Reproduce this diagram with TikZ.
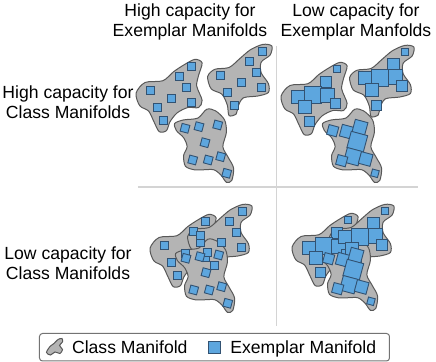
\documentclass[tikz,border=0pt]{standalone}
\usepackage{fontspec}
\setmainfont{Liberation Sans}
\usepackage{tikz}
\usetikzlibrary{positioning}
\definecolor{classgray}{RGB}{180,180,180}
\definecolor{classedge}{RGB}{88,88,88}
\definecolor{exfill}{RGB}{93,166,222}
\definecolor{exedge}{RGB}{50,82,114}
\definecolor{divgray}{RGB}{212,212,212}
\tikzset{
  manifold/.style={draw=classedge, fill=classgray, line width=0.5pt},
  exemplar/.style={draw=exedge, fill=exfill, line width=0.45pt, inner sep=0pt,
                   minimum size=4pt, shape=rectangle},
  capnode/.style={font=\fontsize{8.8}{10}\selectfont, align=center, inner sep=0pt},
  legendtext/.style={font=\fontsize{8.8}{10}\selectfont, inner sep=0pt, anchor=base west},
  divider/.style={draw=divgray, line width=0.9pt},
  legendbox/.style={draw=black!55, line width=0.5pt, rounded corners=1.5pt}
}

% class manifold outlines (pixel coordinates of the top-left cell)
\newcommand{\classA}[1]{%
  \draw[manifold, shift={#1}, scale around={1.07:(170,95)}] plot[smooth cycle] coordinates {
    (138.3,93.3) (146.7,83.3) (163.3,81.7) (173.3,73.3) (183.3,66.7) (193.3,61.7)
    (200,65) (196.7,76.7) (195,86.7) (200,100) (196.7,106.7) (186.7,106.7)
    (176.7,111.7) (170,120) (166.7,128.3) (160,129.3) (155,120) (150,110) (141.7,105)};}
\newcommand{\classB}[1]{%
  \draw[manifold, shift={#1}, scale around={1.07:(243,80)}] plot[smooth cycle] coordinates {
    (210,76.7) (216.7,70) (230,68.3) (240,60) (250,51.7) (261.7,46.7) (270,48.3)
    (268.3,56.7) (260,63.3) (260,73.3) (266.7,83.3) (266.7,91.7) (256.7,95)
    (243.3,96.7) (238.3,105) (236.7,111.7) (230,113.3) (228.3,103.3) (223.3,93.3)
    (213.3,88.3)};}
\newcommand{\classC}[1]{%
  \draw[manifold, shift={#1}, scale around={1.07:(205,147)}] plot[smooth cycle] coordinates {
    (176.7,125) (185,121.7) (198.3,120) (206.7,111.7) (215,113.3) (223.3,121.7)
    (225,133.3) (221.7,146.7) (226.7,156.7) (231.7,166.7) (230,178.3) (225,180)
    (220,173.3) (213.3,168.3) (203.3,168.3) (195,168.3) (186.7,165) (185,155)
    (188.3,146.7) (185,138.3) (178.3,131.7)};}

% exemplar manifolds, high capacity (small squares)
\newcommand{\smallsq}[4]{%
  \begin{scope}[shift={#1}]
    \foreach \x/\y [count=\i] in {150/90,171.7/98.3,191.7/66.7,179.3/76,186.7/87.7,
        191.7/102.7,157.7/107.3,163.3/120}
      \node[exemplar] (#4a\i) at (\x,\y) {};
  \end{scope}
  \begin{scope}[shift={#2}]
    \foreach \x/\y [count=\i] in {262.7/51,249.3/61.7,256.7/72.7,220/75,241.7/82.7,
        261.7/87.7,227.7/92.3,234/105.3}
      \node[exemplar] (#4b\i) at (\x,\y) {};
  \end{scope}
  \begin{scope}[shift={#3}]
    \foreach \x/\y [count=\i] in {185/128.3,199/126.7,217.7/125,205/142.7,192.7/160,
        208.3/160,220.7/156.7,226.7/173.3}
      \node[exemplar, rotate=-15] (#4c\i) at (\x,\y) {};
  \end{scope}}

% exemplar manifolds, low capacity (large squares)
\newcommand{\largesq}[4]{%
  \begin{scope}[shift={#1}]
    \foreach \x/\y/\s [count=\i] in {191.7/66.3/7,181/79.3/11,153.3/93.7/13,168.3/92/17,
        182.7/92/14,160/103.7/13,190/100.3/10,164/118/10}
      \node[exemplar, minimum size=\s*0.5pt] (#4a\i) at (\x,\y) {};
  \end{scope}
  \begin{scope}[shift={#2}]
    \foreach \x/\y/\s [count=\i] in {263/50.7/7,251.3/63/12,253/75.7/15,223/77.3/13,
        238/77.3/17,259.7/85/11,229.7/89/13,234/104/10}
      \node[exemplar, minimum size=\s*0.5pt] (#4b\i) at (\x,\y) {};
  \end{scope}
  \begin{scope}[shift={#3}]
    \foreach \x/\y/\s [count=\i] in {184.7/130.7/10,198.7/131.7/12,212/127.3/13,
        209.3/141.7/17,204.7/156.7/15,193.7/160.7/10,217.7/159/12,227/173.3/7}
      \node[exemplar, rotate=-15, minimum size=\s*0.5pt] (#4c\i) at (\x,\y) {};
  \end{scope}}

\begin{document}
\begin{tikzpicture}[x=0.5pt, y=-0.5pt]
  \useasboundingbox (0,0) rectangle (436,362);

  % headers
  \node[capnode] (hiex) at (190,21.5) {High capacity for\\Exemplar Manifolds};
  \node[capnode] (loex) at (356,21.5) {Low capacity for\\Exemplar Manfolds};
  \node[capnode] (hicl) at (68,102.5) {High capacity for\\Class Manifolds};
  \node[capnode] (locl) at (68,263.5) {Low capacity for\\Class Manifolds};

  % dividers
  \coordinate (vtop) at (276.5,46);
  \coordinate (vbot) at (276.5,326);
  \coordinate (hleft) at (138,187);
  \coordinate (hright) at (418,187);
  \draw[divider] (vtop) -- (vbot);
  \draw[divider] (hleft) -- (hright);

  % top-left: separated, small exemplars
  \classA{(0,0)} \classB{(0,0)} \classC{(0,0)}
  \smallsq{(0,0)}{(0,0)}{(0,0)}{tl}

  % top-right: separated, large exemplars
  \classA{(145,3)} \classB{(142,1)} \classC{(148,0)}
  \largesq{(145,3)}{(142,1)}{(148,0)}{tr}

  % bottom-left: overlapping, small exemplars
  \classA{(14,155)} \classB{(-20,160)} \classC{(1,130)}
  \smallsq{(14,155)}{(-20,160)}{(1,130)}{bl}

  % bottom-right: overlapping, large exemplars
  \classA{(156,154)} \classB{(122,160)} \classC{(144,128)}
  \largesq{(156,154)}{(122,160)}{(144,128)}{br}

  % legend
  \coordinate (lgsw) at (39.5,361);
  \coordinate (lgne) at (389.5,333.5);
  \draw[legendbox] (lgsw) rectangle (lgne);
  \draw[manifold] plot[smooth cycle] coordinates {(46.5,352.5) (50,346.5) (54,343.5)
    (58,339.5) (62,338.5) (62.5,342) (59.5,345.5) (62.5,349.5) (60,353.5) (55,352)
    (50.5,355)};
  \node[legendtext] (lgclass) at (71.7,353.3) {Class Manifold};
  \node[exemplar, minimum size=6pt] (lgsq) at (214,347) {};
  \node[legendtext] (lgex) at (230,353.3) {Exemplar Manifold};
\end{tikzpicture}
\end{document}
